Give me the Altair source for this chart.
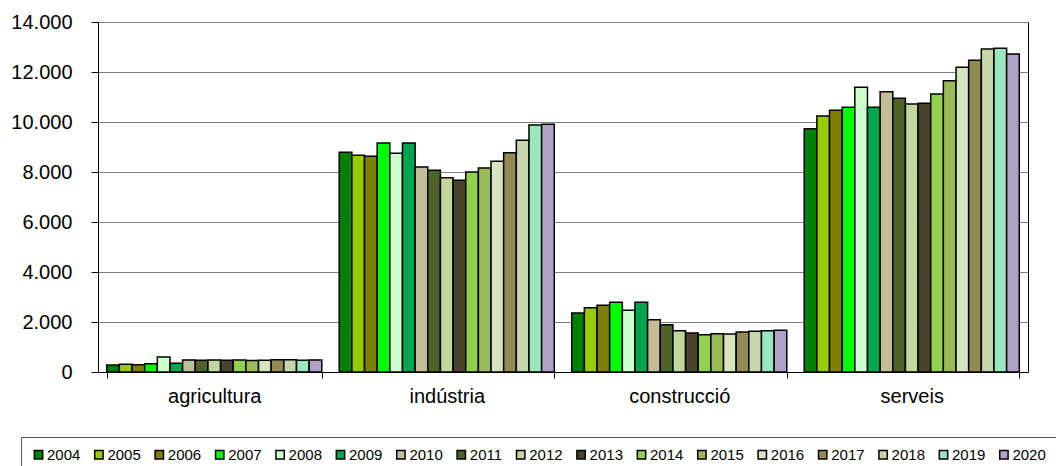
import altair as alt
import pandas as pd

categories = ["agricultura", "indústria", "construcció", "serveis"]
years = [str(y) for y in range(2004, 2021)]

agricultura = [280, 310, 290, 330, 600, 350, 480, 470, 480, 470, 480, 460, 470, 490, 490, 470, 480]
industria = [8790, 8670, 8630, 9160, 8750, 9160, 8200, 8070, 7770, 7670, 8000, 8160, 8430, 8770, 9270, 9880, 9910]
construccio = [2360, 2570, 2670, 2790, 2470, 2790, 2090, 1890, 1650, 1560, 1490, 1530, 1520, 1600, 1630, 1650, 1670]
serveis = [9730, 10240, 10470, 10590, 11390, 10590, 11210, 10950, 10720, 10750, 11120, 11650, 12190, 12470, 12920, 12950, 12720]

palette = ["#008000", "#99CC00", "#808000", "#00FF00", "#CCFFCC", "#00A550",
           "#C4BD97", "#4F6228", "#C3D69B", "#4A452A", "#92D050", "#9BBB59",
           "#D7E4BD", "#948A54", "#C6D7AA", "#99E6BF", "#B2A1C7"]

rows = []
for cat, vals in zip(categories, [agricultura, industria, construccio, serveis]):
    for y, v in zip(years, vals):
        rows.append({"sector": cat, "any": y, "valor": v})
df = pd.DataFrame(rows)

FONT = "Liberation Sans"

chart = alt.Chart(df).mark_bar(stroke="black", strokeWidth=1.5).encode(
    x=alt.X("sector:N", sort=categories,
            scale=alt.Scale(paddingInner=0.075, paddingOuter=0.0375),
            axis=alt.Axis(title=None, labelAngle=0, labelFontSize=20, labelFont=FONT,
                          labelColor="black", labelPadding=8, tickBand="extent",
                          tickSize=6, tickColor="black", domainColor="black", grid=False)),
    xOffset=alt.XOffset("any:N", sort=years,
                        scale=alt.Scale(paddingInner=0, paddingOuter=0)),
    y=alt.Y("valor:Q",
            scale=alt.Scale(domain=[0, 14000], nice=False),
            axis=alt.Axis(title=None, values=list(range(0, 14001, 2000)),
                          labelExpr="replace(format(datum.value, ',d'), ',', '.')",
                          labelFontSize=20, labelFont=FONT, labelColor="black",
                          labelPadding=19, tickSize=7, tickColor="black",
                          domainColor="black", gridColor="#808080", gridWidth=1.2)),
    color=alt.Color("any:N", sort=years,
                    scale=alt.Scale(domain=years, range=palette),
                    legend=alt.Legend(title=None, orient="none", legendX=-77, legendY=415,
                                      direction="horizontal", columns=17,
                                      symbolType="square", symbolSize=70,
                                      symbolStrokeColor="black", symbolStrokeWidth=1.5,
                                      labelFontSize=15, labelFont=FONT, labelColor="black",
                                      labelOffset=1, columnPadding=10.4,
                                      strokeColor="#555555", padding=10)),
).properties(
    width=930, height=350,
    autosize=alt.AutoSizeParams(type="none"),
    padding={"left": 90, "top": 14, "right": 28, "bottom": 96},
).configure_view(stroke="black", strokeWidth=1)

chart.save("out.html", embed_options={"renderer": "svg", "actions": False})
